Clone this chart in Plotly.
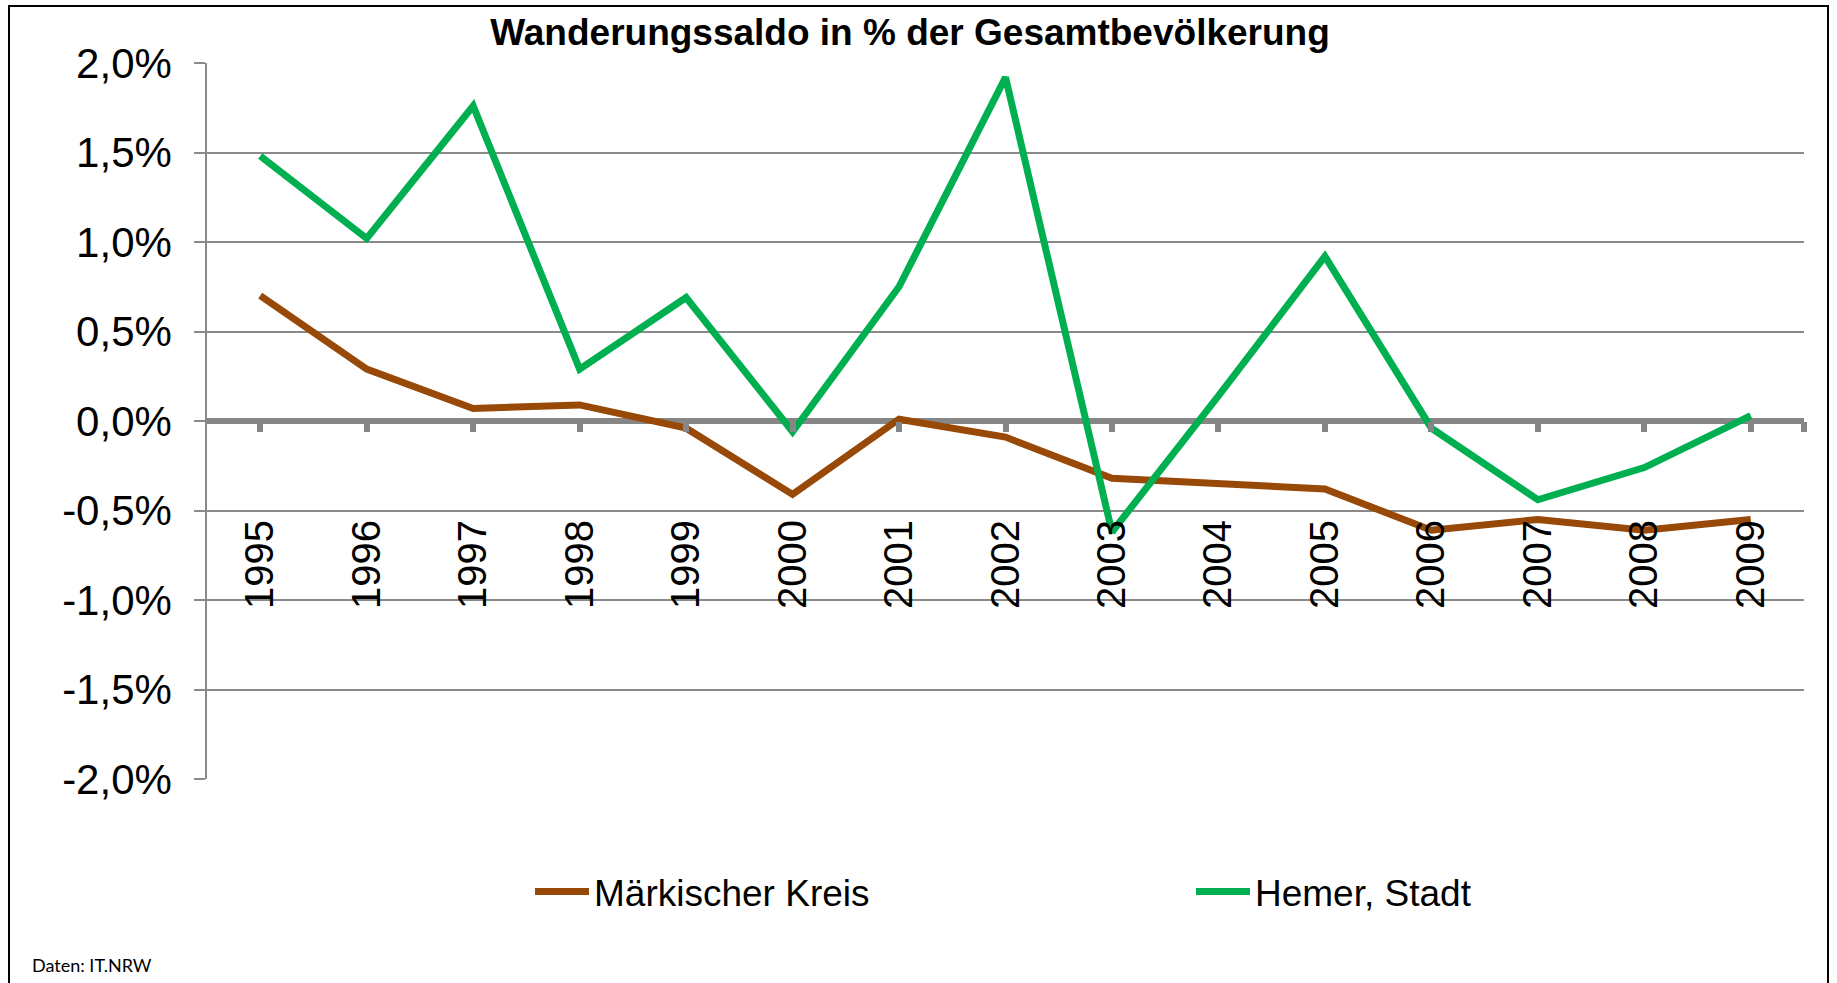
import plotly.graph_objects as go

# Wanderungssaldo (net migration) as % of total population
years = list(range(1995, 2010))
maerkischer_kreis = [0.70, 0.29, 0.07, 0.09, -0.04, -0.41, 0.01, -0.09,
                     -0.32, -0.35, -0.38, -0.61, -0.55, -0.61, -0.55]
hemer_stadt = [1.48, 1.02, 1.76, 0.29, 0.69, -0.06, 0.75, 1.92,
               -0.62, 0.14, 0.92, -0.04, -0.44, -0.26, 0.03]

y_ticks = [2.0, 1.5, 1.0, 0.5, 0.0, -0.5, -1.0, -1.5, -2.0]
y_tick_labels = ["2,0%", "1,5%", "1,0%", "0,5%", "0,0%",
                 "-0,5%", "-1,0%", "-1,5%", "-2,0%"]
x_tick_labels = [str(y) for y in years]

series_names = ["Märkischer Kreis", "Hemer, Stadt"]
series_colors = ["#984807", "#00B050"]

W, H = 1837, 983
L, R, T, B = 207, 33, 63, 204
PW, PH = W - L - R, H - T - B

FONT = "Liberation Sans, Arial, sans-serif"
GRID = "#8a8a8a"
AXIS = "#868686"


def px_x(px):
    return (px - L) / PW


def px_y(px):
    return (H - B - px) / PH


fig = go.Figure()
for name, vals, col in zip(series_names, [maerkischer_kreis, hemer_stadt], series_colors):
    fig.add_trace(go.Scatter(
        x=years, y=vals, name=name, mode="lines",
        line=dict(color=col, width=7),
    ))

# category boundary tick at the right end of the axis
tick_vals = years + [years[-1] + 0.5]
tick_text = x_tick_labels + [""]

fig.update_layout(
    width=W, height=H,
    margin=dict(l=L, r=R, t=T, b=B, autoexpand=False),
    paper_bgcolor="white", plot_bgcolor="white",
    font=dict(family=FONT, color="black"),
    title=dict(
        text="Wanderungssaldo in % der Gesamtbevölkerung",
        font=dict(family=FONT, size=37, weight="bold", color="black"),
        x=910 / W, xanchor="center", xref="container",
        y=1 - 32 / H, yanchor="middle", yref="container",
    ),
    xaxis=dict(
        range=[years[0] - 0.5, years[-1] + 0.5],
        anchor="free", position=0.5,
        tickmode="array", tickvals=tick_vals, ticktext=tick_text,
        ticks="outside", ticklen=10, tickwidth=6, tickcolor=AXIS,
        tickangle=-90, tickfont=dict(family=FONT, size=40, color="black"),
        ticklabelstandoff=72,
        showgrid=False, showline=False, zeroline=False, automargin=False,
    ),
    yaxis=dict(
        range=[-2, 2],
        tickmode="array", tickvals=y_ticks, ticktext=y_tick_labels,
        showgrid=True, gridcolor=GRID, gridwidth=1.5,
        showline=True, linecolor=GRID, linewidth=1.5,
        ticks="outside", ticklen=11, tickwidth=1.5, tickcolor=GRID,
        zeroline=True, zerolinecolor=AXIS, zerolinewidth=6,
        tickfont=dict(family=FONT, size=42, color="black"),
        ticklabelstandoff=14, automargin=False,
    ),
    legend=dict(
        orientation="h",
        x=px_x(530), xanchor="left",
        y=px_y(892), yanchor="middle",
        font=dict(family=FONT, size=37, color="black"),
        itemwidth=54,
        entrywidth=592, entrywidthmode="pixels",
        bgcolor="rgba(0,0,0,0)",
    ),
    showlegend=True,
)

fig.add_annotation(
    text="Daten: IT.NRW", showarrow=False,
    xref="paper", yref="paper",
    x=px_x(30), xanchor="left",
    y=px_y(978), yanchor="bottom",
    font=dict(family="Lato, Open Sans, sans-serif", size=18, color="black"),
)

# outer chart frame
fig.add_shape(
    type="rect", xref="paper", yref="paper",
    x0=px_x(9), x1=px_x(1828), y0=px_y(6), y1=px_y(995),
    line=dict(color="black", width=2), fillcolor="rgba(0,0,0,0)",
    layer="above",
)

fig.write_html("out.html")
